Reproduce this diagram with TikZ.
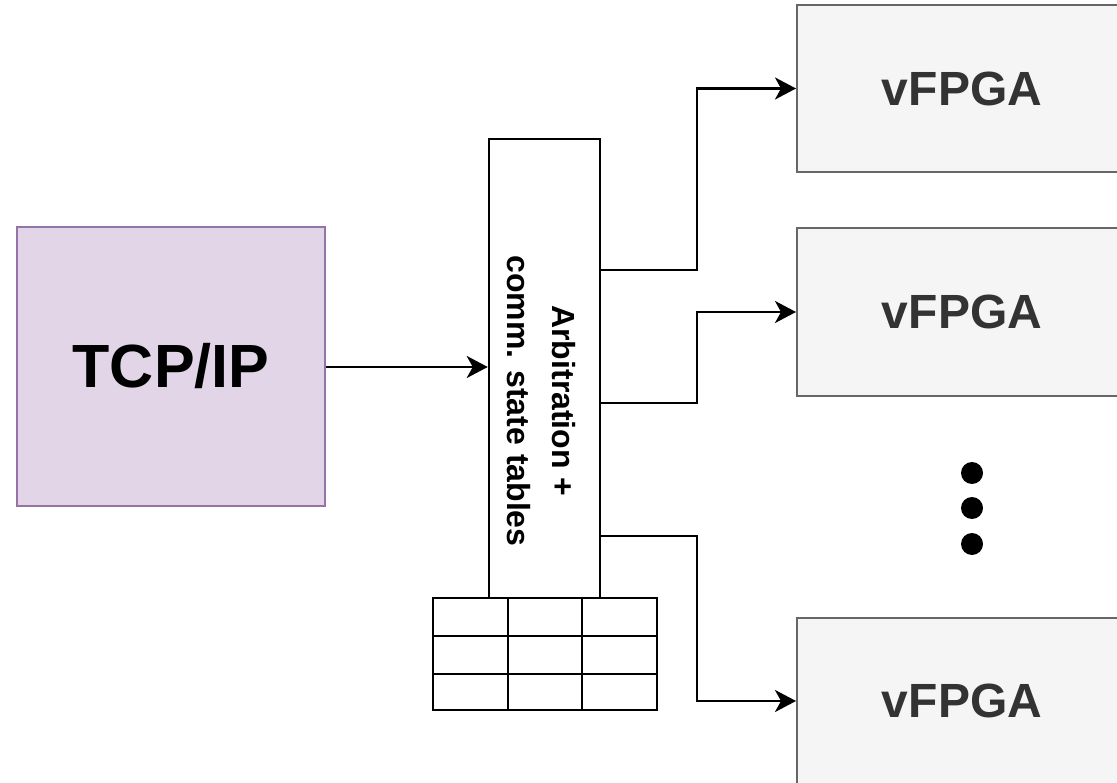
\documentclass[tikz,border=0pt]{standalone}
\usepackage{fontspec}
\setmainfont{Liberation Sans}
\usetikzlibrary{arrows.meta}
\definecolor{tcpfill}{HTML}{E1D5E7}
\definecolor{tcpline}{HTML}{9673A6}
\definecolor{vfill}{HTML}{F5F5F5}
\definecolor{vline}{HTML}{666666}
\definecolor{vtext}{HTML}{333333}
\tikzset{
  tcpbox/.style={draw=tcpline, fill=tcpfill, line width=2pt, inner sep=0pt,
    font=\bfseries\fontsize{61}{61}\selectfont},
  arbbox/.style={draw=black, fill=white, line width=2.5pt, inner sep=0pt},
  vbox/.style={draw=vline, fill=vfill, line width=2pt, inner sep=0pt,
    minimum width=330pt, text=vtext, font=\bfseries\fontsize{48}{48}\selectfont},
  link/.style={draw=black, line width=2.5pt,
    -{Stealth[length=21pt, width=22pt, inset=6pt]}},
  grid/.style={draw=black, line width=2.5pt},
  dot/.style={circle, fill=black, inner sep=0pt, minimum size=22pt}
}
\begin{document}
\begin{tikzpicture}[x=1pt, y=-1pt]
\useasboundingbox (0,0) rectangle (1117,783);
\clip (0,0) rectangle (1117,783);

% TCP/IP stack
\node[tcpbox, minimum width=308pt, minimum height=279pt] (tcp) at (171,366.5) {TCP/IP};

% arbitration block
\node[arbbox, minimum width=111pt, minimum height=459pt] (arb) at (544.5,368.5) {};
\node[rotate=-90, align=center, inner sep=0pt,
      font=\bfseries\fontsize{32}{45}\selectfont] (arblabel) at (541,401)
  {Arbitration +\\comm. state tables};

% state table below the arbitration block
\node[grid, minimum width=224pt, minimum height=112pt, inner sep=0pt, fill=white] (tbl) at (545,654) {};
\coordinate (c1) at (508,598);
\coordinate (c2) at (582,598);
\coordinate (r1) at (433,636);
\coordinate (r2) at (433,674);
\draw[grid] (c1) -- (c1 |- tbl.south);
\draw[grid] (c2) -- (c2 |- tbl.south);
\draw[grid] (r1) -- (r1 -| tbl.east);
\draw[grid] (r2) -- (r2 -| tbl.east);

% virtual FPGA regions
\node[vbox, minimum height=167pt] (v1) at (962,88.5) {vFPGA};
\node[vbox, minimum height=168pt] (v2) at (962,312) {vFPGA};
\node[vbox, minimum height=166pt] (v3) at (962,701) {vFPGA};

% ellipsis
\node[dot] (d1) at (972,473) {};
\node[dot] (d2) at (972,508) {};
\node[dot] (d3) at (972,544) {};

% connectors
\coordinate (j1) at (697,270);
\coordinate (j2) at (697,403);
\coordinate (j3) at (697,536);
\draw[link] (tcp.east |- {(0,367)}) -- (arb.west |- {(0,367)});
\draw[link] (arb.east |- j1) -- (j1) |- (v1.west);
\draw[link] (arb.east |- j2) -- (j2) |- (v2.west);
\draw[link] (arb.east |- j3) -- (j3) |- (v3.west);
\end{tikzpicture}
\end{document}
